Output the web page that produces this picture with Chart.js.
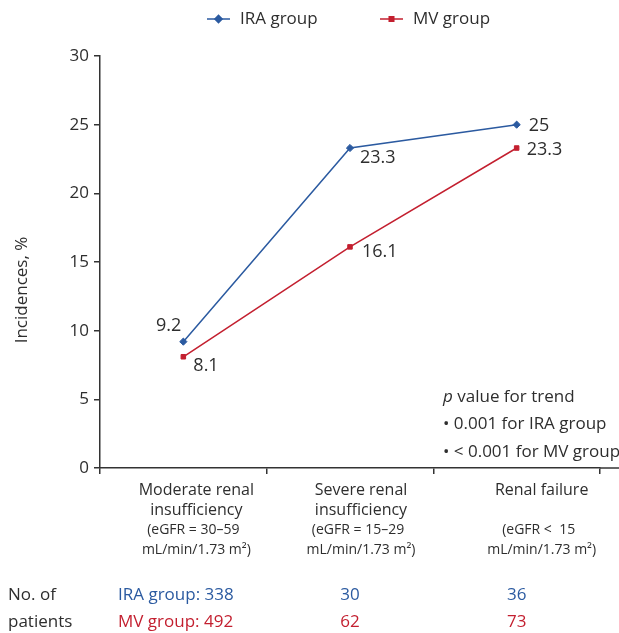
<!DOCTYPE html>
<html>
<head>
<meta charset="utf-8">
<script src="https://cdn.jsdelivr.net/npm/chart.js@4"></script>
<style>
  html, body { margin: 0; padding: 0; background: #fff; }
  #wrap { width: 619px; height: 633px; }
</style>
</head>
<body>
<div id="wrap"><canvas id="grafica" width="619" height="633"></canvas></div>
<script>
// datos
const categorias = ['Moderate renal insufficiency', 'Severe renal insufficiency', 'Renal failure'];
const lineasCat = [['Moderate renal', 'insufficiency'], ['Severe renal', 'insufficiency'], ['Renal failure', '']];
const lineasEgfr = [['(eGFR = 30\u201359', 'mL/min/1.73 m\u00B2)'], ['(eGFR = 15\u201329', 'mL/min/1.73 m\u00B2)'], ['(eGFR <  15', 'mL/min/1.73 m\u00B2)']];
const iraValores = [9.2, 23.3, 25];
const mvValores = [8.1, 16.1, 23.3];
const iraPacientes = [338, 30, 36];
const mvPacientes = [492, 62, 73];
const ticksY = [0, 5, 10, 15, 20, 25, 30];

const AZUL = '#2b5aa0';
const ROJO = '#c31f2f';
const TEXTO = '#2e2e2e';
const FUENTE = '"Open Sans", "Noto Sans", sans-serif';

// posiciones de etiquetas por punto (dx, dy, alineacion)
const posIra = [[-2, -16, 'right'], [10, 10, 'left'], [12, 1, 'left']];
const posMv = [[10, 9, 'left'], [12, 5, 'left'], [10, 2, 'left']];
const despCat = [13, 11, 25];

const extras = {
  id: 'extras',
  afterDraw(chart) {
    const ctx = chart.ctx;
    const x = chart.scales.x, y = chart.scales.y;
    const area = chart.chartArea;
    ctx.save();

    // prolongar eje x
    ctx.strokeStyle = '#333';
    ctx.lineWidth = 1.5;
    ctx.beginPath();
    ctx.moveTo(area.right, area.bottom);
    ctx.lineTo(chart.width, area.bottom);
    ctx.stroke();

    // titulo eje y
    ctx.fillStyle = TEXTO;
    ctx.textBaseline = 'middle';
    ctx.save();
    ctx.translate(22, 290);
    ctx.rotate(-Math.PI / 2);
    ctx.textAlign = 'center';
    ctx.font = '17px ' + FUENTE;
    ctx.fillText('Incidences, %', 0, 0);
    ctx.restore();

    // etiquetas de valores
    ctx.font = '18px ' + FUENTE;
    [[iraValores, posIra], [mvValores, posMv]].forEach(function(par) {
      par[0].forEach(function(v, i) {
        const px = x.getPixelForValue(i), py = y.getPixelForValue(v);
        ctx.textAlign = par[1][i][2];
        ctx.fillText(String(v), px + par[1][i][0], py + par[1][i][1]);
      });
    });

    // categorias
    ctx.textAlign = 'center';
    lineasCat.forEach(function(l, i) {
      const cx = x.getPixelForValue(i) + despCat[i];
      ctx.font = '16px ' + FUENTE;
      ctx.fillText(l[0], cx, area.bottom + 22);
      ctx.fillText(l[1], cx, area.bottom + 42);
      ctx.font = '14px ' + FUENTE;
      ctx.fillText(lineasEgfr[i][0], cx - 3, area.bottom + 62);
      ctx.fillText(lineasEgfr[i][1], cx, area.bottom + 82);
    });

    // tabla de pacientes
    ctx.font = '17px ' + FUENTE;
    ctx.textAlign = 'left';
    ctx.fillStyle = TEXTO;
    ctx.fillText('No. of', 8, 595);
    ctx.fillText('patients', 8, 622);
    [[iraPacientes, AZUL, 'IRA group: ', 595], [mvPacientes, ROJO, 'MV group: ', 622]].forEach(function(fila) {
      ctx.fillStyle = fila[1];
      fila[0].forEach(function(n, i) {
        if (i === 0) {
          ctx.textAlign = 'left';
          ctx.fillText(fila[2] + n, 118, fila[3]);
        } else {
          ctx.textAlign = 'center';
          ctx.fillText(String(n), x.getPixelForValue(i), fila[3]);
        }
      });
    });

    // p value
    ctx.fillStyle = TEXTO;
    ctx.textAlign = 'left';
    ctx.font = 'italic 17px ' + FUENTE;
    ctx.fillText('p', 443, 397);
    const wp = ctx.measureText('p ').width;
    ctx.font = '17px ' + FUENTE;
    ctx.fillText('value for trend', 443 + wp, 397);
    ctx.fillText('\u2022 0.001 for IRA group', 443, 424);
    ctx.fillText('\u2022 < 0.001 for MV group', 443, 452);

    // leyenda
    const ley = [[AZUL, 'rectRot', 'IRA group', 207], [ROJO, 'rect', 'MV group', 380]];
    ley.forEach(function(l) {
      ctx.strokeStyle = l[0];
      ctx.lineWidth = 1.5;
      ctx.beginPath();
      ctx.moveTo(l[3], 19);
      ctx.lineTo(l[3] + 23, 19);
      ctx.stroke();
      ctx.fillStyle = l[0];
      Chart.helpers.drawPoint(ctx, { pointStyle: l[1], radius: l[1] === 'rect' ? 3.2 : 3.6, rotation: 0, borderWidth: 1 }, l[3] + 11.5, 19);
      ctx.fillStyle = TEXTO;
      ctx.font = '17px ' + FUENTE;
      ctx.textAlign = 'left';
      ctx.fillText(l[2], l[3] + 33, 19);
    });

    ctx.restore();
  }
};

const graph = document.querySelector('#grafica');

new Chart(graph, {
  type: 'line',
  data: {
    labels: categorias,
    datasets: [
      {
        label: 'IRA group',
        data: iraValores,
        borderColor: AZUL,
        backgroundColor: AZUL,
        borderWidth: 1.5,
        pointStyle: 'rectRot',
        pointRadius: 3.6,
        pointBorderWidth: 1,
        tension: 0
      },
      {
        label: 'MV group',
        data: mvValores,
        borderColor: ROJO,
        backgroundColor: ROJO,
        borderWidth: 1.5,
        pointStyle: 'rect',
        pointRadius: 3.2,
        pointBorderWidth: 1,
        tension: 0
      }
    ]
  },
  options: {
    responsive: false,
    animation: false,
    layout: { padding: { top: 56, right: 19, left: 0, bottom: 0 } },
    plugins: {
      legend: { display: false },
      tooltip: { enabled: false }
    },
    scales: {
      x: {
        offset: true,
        grid: { offset: true, drawOnChartArea: false, tickLength: 6, color: '#333', lineWidth: 1.5 },
        border: { color: '#333', width: 1.5 },
        ticks: { display: false },
        afterFit: function(scale) { scale.height = 165; }
      },
      y: {
        min: 0,
        max: 30,
        afterBuildTicks: function(scale) { scale.ticks = ticksY.map(function(v) { return { value: v }; }); },
        grid: { drawOnChartArea: false, tickLength: 6, color: '#333', lineWidth: 1.5 },
        border: { color: '#333', width: 1.5 },
        ticks: { color: TEXTO, font: { size: 17, family: FUENTE }, padding: 5 },
        afterFit: function(scale) { scale.width = 100; }
      }
    }
  },
  plugins: [extras]
});
</script>
</body>
</html>
